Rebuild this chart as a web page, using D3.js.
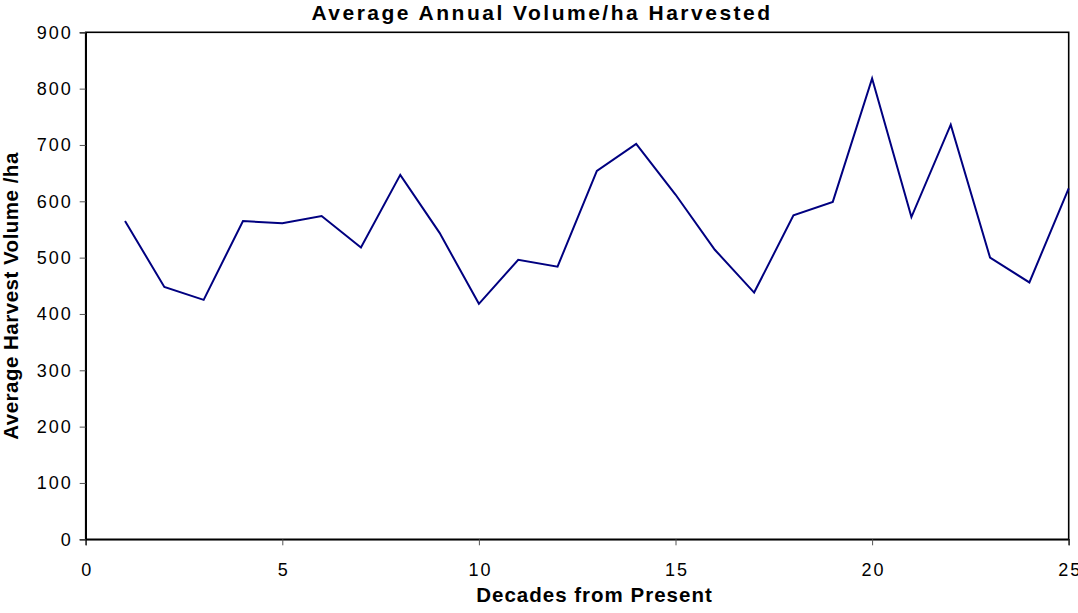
<!DOCTYPE html>
<html>
<head>
<meta charset="utf-8">
<script src="https://cdn.jsdelivr.net/npm/d3@7"></script>
<style>
  html, body { margin: 0; padding: 0; background: #fff; }
  svg { display: block; font-family: "Liberation Sans", Arial, sans-serif; }
</style>
</head>
<body>
<svg id="chart" width="1078" height="613"></svg>
<script>
// Decade index and average annual harvested volume per hectare
const decades = [1, 2, 3, 4, 5, 6, 7, 8, 9, 10, 11, 12, 13, 14, 15, 16, 17, 18, 19, 20, 21, 22, 23, 24, 25];
const volumes = [565, 448, 425, 565, 561, 574, 518, 647, 544, 418, 496, 484, 654, 702, 612, 514, 438, 575, 599, 818, 572, 736, 500, 456, 623];
const xTicks = [0, 5, 10, 15, 20, 25];
const yTicks = [0, 100, 200, 300, 400, 500, 600, 700, 800, 900];

const titleText = "Average Annual Volume/ha Harvested";
const xTitle = "Decades from Present";
const yTitle = "Average Harvest Volume /ha";

const svg = d3.select("#chart");
const plotLeft = 85.7, plotRight = 1068.7, plotTop = 32.3, plotBottom = 539.3;

const x = d3.scaleLinear().domain([0, 25]).range([plotLeft, plotRight]);
const y = d3.scaleLinear().domain([0, 900]).range([plotBottom, plotTop]);

// Plot frame
svg.append("rect")
  .attr("x", plotLeft).attr("y", plotTop)
  .attr("width", plotRight - plotLeft).attr("height", plotBottom - plotTop)
  .attr("fill", "none").attr("stroke", "#000").attr("stroke-width", 1.6);

// Axes
const xAxis = svg.append("g")
  .attr("transform", `translate(0,${plotBottom})`)
  .call(d3.axisBottom(x).tickValues(xTicks).tickSize(6).tickPadding(18).tickFormat(d3.format("d")));
const yAxis = svg.append("g")
  .attr("transform", `translate(${plotLeft},0)`)
  .call(d3.axisLeft(y).tickValues(yTicks).tickSize(6).tickPadding(7).tickFormat(d3.format("d")));

[xAxis, yAxis].forEach(g => {
  g.select(".domain").attr("stroke", "#000").attr("stroke-width", 1.6);
  g.selectAll(".tick line").attr("stroke", "#555").attr("stroke-width", 1);
  g.selectAll(".tick text")
    .attr("fill", "#000")
    .style("font-family", "'Liberation Sans', Arial, sans-serif")
    .style("font-size", "18px")
    .style("letter-spacing", "2px");
});
xAxis.selectAll(".tick text").attr("dy", "0.71em").attr("dx", "1px");

// Data line
const line = d3.line()
  .x((d, i) => x(decades[i]))
  .y(d => y(d));

svg.append("path")
  .datum(volumes)
  .attr("d", line)
  .attr("fill", "none")
  .attr("stroke", "#000080")
  .attr("stroke-width", 2)
  .attr("stroke-linejoin", "miter");

// Titles
svg.append("text")
  .attr("x", 542).attr("y", 20)
  .attr("text-anchor", "middle")
  .style("font-size", "21px").style("font-weight", "bold")
  .style("letter-spacing", "2.5px")
  .text(titleText);

svg.append("text")
  .attr("x", 594.5).attr("y", 602)
  .attr("text-anchor", "middle")
  .style("font-size", "20.5px").style("font-weight", "bold")
  .style("letter-spacing", "1px")
  .text(xTitle);

svg.append("text")
  .attr("transform", `translate(17.5,296) rotate(-90)`)
  .attr("text-anchor", "middle")
  .style("font-size", "20.5px").style("font-weight", "bold")
  .style("letter-spacing", "0.5px")
  .text(yTitle);
</script>
</body>
</html>
